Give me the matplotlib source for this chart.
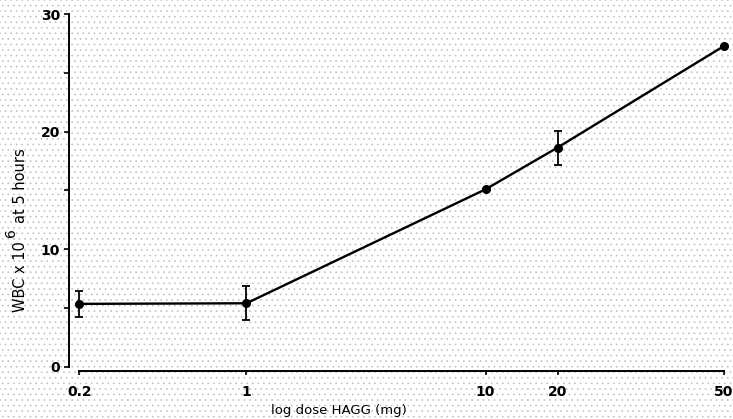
import numpy as np
import matplotlib.pyplot as plt
from matplotlib.patches import Rectangle

plt.rcParams['font.family'] = ['DejaVu Sans']
plt.rcParams['hatch.linewidth'] = 0.5

# data
dose = [0.2, 1, 10, 20, 50]
wbc = [5.35, 5.4, 15.1, 18.65, 27.3]
wbc_err = [1.1, 1.45, 0.0, 1.45, 0.0]

x_ticks = [0.2, 1, 10, 20, 50]
x_ticklabels = ['0.2', '1', '10', '20', '50']
y_ticks = [0, 10, 20, 30]
y_minor = [5, 15, 25]

# log axis, with the last interval (20 -> 50) drawn stretched as in the original
BREAK = 20.0
STRETCH = 1.75


def fwd(x):
    lx = np.log10(np.clip(x, 1e-6, None))
    b = np.log10(BREAK)
    return np.where(lx > b, b + (lx - b) * STRETCH, lx)


def inv(y):
    b = np.log10(BREAK)
    return 10 ** np.where(y > b, b + (y - b) / STRETCH, y)


fig = plt.figure(figsize=(7.33, 4.19), dpi=100)
# stippled paper look of the scan
bg = Rectangle((0, 0), 1, 1, transform=fig.transFigure, facecolor='white',
               edgecolor='#c2c2c2', linewidth=0, hatch='...', zorder=-10)
fig.patches.append(bg)
ax = fig.add_axes([0.1083, 0.1248, 0.8794, 0.8411])
ax.patch.set_alpha(0)

ax.set_xscale('function', functions=(fwd, inv))
ax.set_xlim(0.2, 50)
ax.set_ylim(0, 30)

ax.plot(dose, wbc, color='black', lw=1.7, marker='o', ms=5.5, zorder=3,
        clip_on=False)
eb = ax.errorbar(dose, wbc, yerr=wbc_err, fmt='none', ecolor='black',
                 elinewidth=1.3, capsize=3.2, capthick=1.3, zorder=3)
for art in eb.lines[1] + eb.lines[2]:
    art.set_clip_on(False)

ax.spines['top'].set_visible(False)
ax.spines['right'].set_visible(False)
ax.spines['left'].set_position(('outward', 7.5))
ax.spines['bottom'].set_position(('outward', 3))
for s in ('left', 'bottom'):
    ax.spines[s].set_linewidth(1.4)

ax.set_xticks(x_ticks)
ax.set_xticklabels(x_ticklabels)
ax.xaxis.set_minor_locator(plt.NullLocator())
ax.set_yticks(y_ticks)
ax.set_yticks(y_minor, minor=True)

ax.tick_params(axis='x', which='both', direction='out', length=3, width=1.2,
               pad=7, labelsize=10)
ax.tick_params(axis='y', which='both', direction='out', length=3.5, width=1.2,
               pad=3, labelsize=10)
for lab in ax.get_xticklabels() + ax.get_yticklabels():
    lab.set_fontweight('bold')

fig.text(0.4625, 0.02, 'log dose HAGG (mg)', ha='center', va='center',
         fontsize=9.5)

# y label in pieces so the exponent sits high, as in the original
y1 = fig.text(0.0285, (419 - 312) / 419, 'WBC x 10', ha='center', va='bottom',
              rotation=90, fontsize=10.5)
y2 = ax.annotate('6', xy=(0.0, 1.0), xycoords=y1, xytext=(-1.5, 3),
                 textcoords='offset points', ha='center', va='bottom',
                 rotation=90, fontsize=10, annotation_clip=False)
ax.annotate('at 5 hours', xy=(0.5, 1.0), xycoords=(y1, y2), xytext=(0, 4),
            textcoords='offset points', ha='center', va='bottom',
            rotation=90, fontsize=10.5, annotation_clip=False)

fig.savefig('out.png', dpi=100)
